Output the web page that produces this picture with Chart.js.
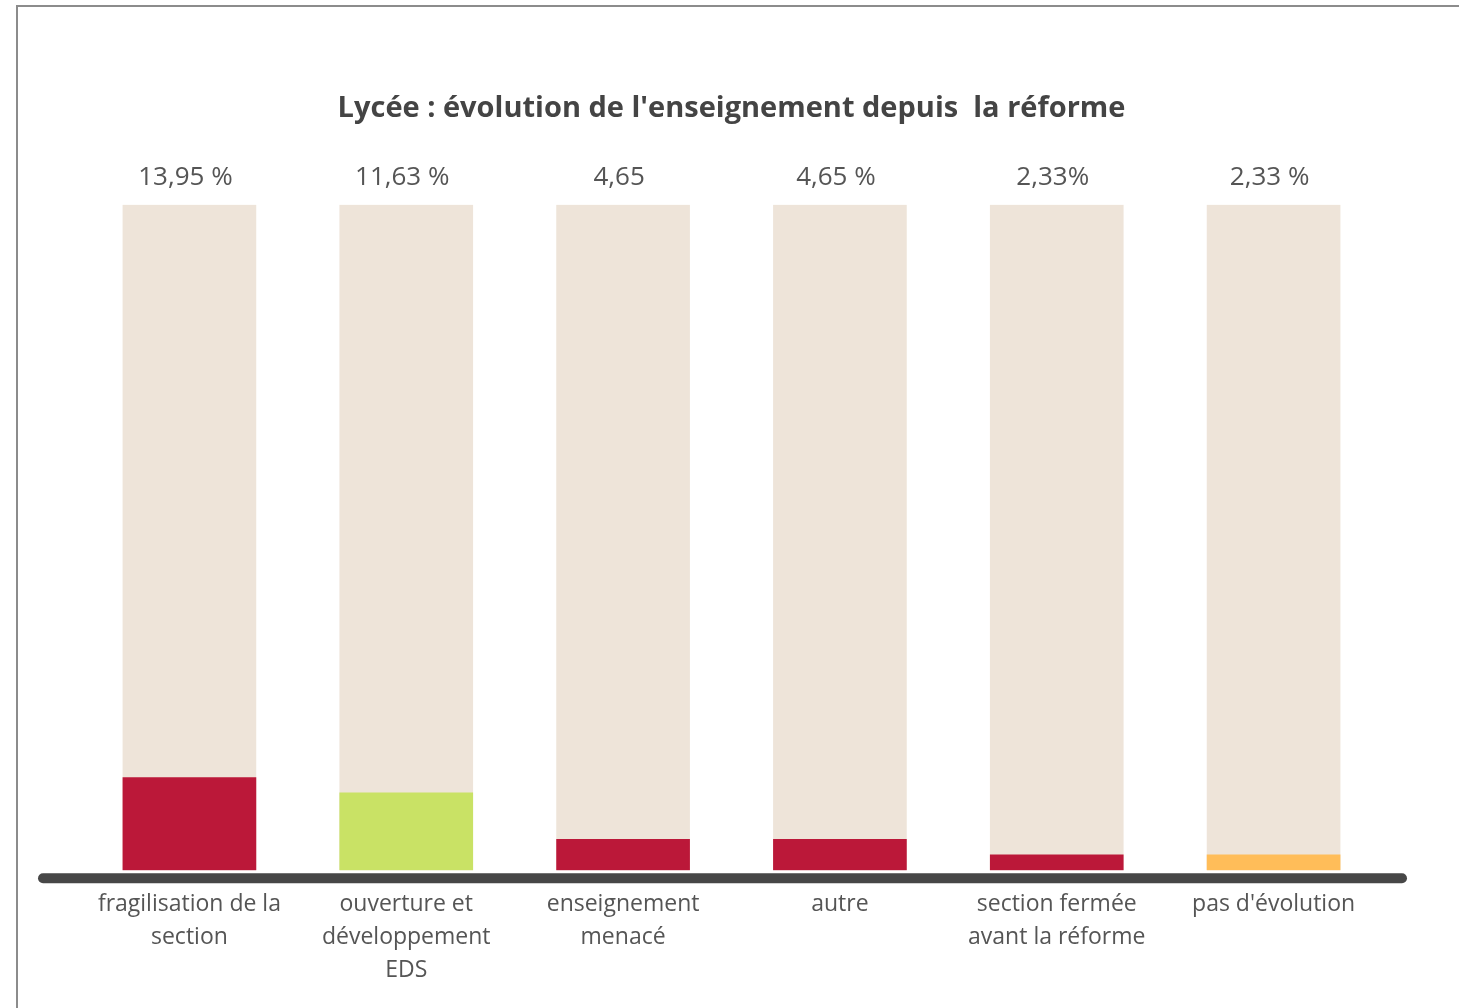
<!DOCTYPE html>
<html>
<head>
<meta charset="utf-8">
<script src="https://cdn.jsdelivr.net/npm/chart.js@4/dist/chart.umd.min.js"></script>
<style>
  html, body { margin: 0; padding: 0; background: #ffffff; }
  #wrap { position: absolute; left: 0; top: 0; width: 1459px; height: 1008px; }
  #frame { position: absolute; left: 16px; top: 5px; width: 1500px; height: 1100px;
           border-left: 2px solid #8c8c8c; border-top: 2px solid #8c8c8c; }
  canvas { position: absolute; left: 0; top: 0; }
</style>
</head>
<body>
<div id="wrap">
  <div id="frame"></div>
  <canvas id="c" width="1459" height="1008"></canvas>
</div>
<script>
const titleText = "Lycée : évolution de l'enseignement depuis  la réforme";
const categories = [
  ["fragilisation de la", "section"],
  ["ouverture et", "développement", "EDS"],
  ["enseignement", "menacé"],
  ["autre"],
  ["section fermée", "avant la réforme"],
  ["pas d'évolution"]
];
const values = [13.95, 11.63, 4.65, 4.65, 2.33, 2.33];
const totals = [100, 100, 100, 100, 100, 100];
const valueLabels = ["13,95 %", "11,63 %", "4,65", "4,65 %", "2,33%", "2,33 %"];
const barColors = ["#BB1839", "#C9E265", "#BB1839", "#BB1839", "#BB1839", "#FFBD59"];
const trackColor = "#EEE4D9";

const decoPlugin = {
  id: 'deco',
  afterDatasetsDraw(chart) {
    const ctx = chart.ctx;
    const area = chart.chartArea;
    const meta = chart.getDatasetMeta(1);
    const yTop = chart.scales.y.getPixelForValue(100);
    ctx.save();
    // baseline bar
    ctx.strokeStyle = '#474747';
    ctx.lineWidth = 10;
    ctx.lineCap = 'round';
    ctx.beginPath();
    ctx.moveTo(area.left - 38, area.bottom + 8);
    ctx.lineTo(area.right + 20, area.bottom + 8);
    ctx.stroke();
    // value labels
    ctx.fillStyle = '#555555';
    ctx.font = '26px "Open Sans"';
    ctx.textAlign = 'center';
    ctx.textBaseline = 'middle';
    meta.data.forEach((el, i) => {
      ctx.fillText(valueLabels[i], el.x - 4, yTop - 27);
    });
    ctx.restore();
  }
};

new Chart(document.getElementById('c'), {
  type: 'bar',
  data: {
    labels: categories,
    datasets: [
      {
        data: values,
        backgroundColor: barColors,
        barThickness: 133,
        grouped: false,
        order: 1
      },
      {
        data: totals,
        backgroundColor: trackColor,
        barThickness: 133,
        grouped: false,
        order: 2
      }
    ]
  },
  options: {
    responsive: false,
    animation: false,
    layout: { padding: { left: 81, right: 77, top: 0, bottom: 3 } },
    plugins: {
      legend: { display: false },
      tooltip: { enabled: false },
      title: {
        display: true,
        text: titleText,
        color: '#444444',
        font: { family: '"Open Sans"', size: 29, weight: 'bold', lineHeight: 1.2 },
        padding: { top: 91, bottom: 79 }
      }
    },
    scales: {
      x: {
        grid: { display: false, drawTicks: false },
        border: { display: false },
        ticks: {
          color: '#555555',
          font: { family: '"Open Sans"', size: 23, lineHeight: 1.43 },
          padding: 18,
          maxRotation: 0,
          autoSkip: false
        }
      },
      y: {
        display: false,
        min: 0,
        max: 100
      }
    }
  },
  plugins: [decoPlugin]
});
</script>
</body>
</html>
